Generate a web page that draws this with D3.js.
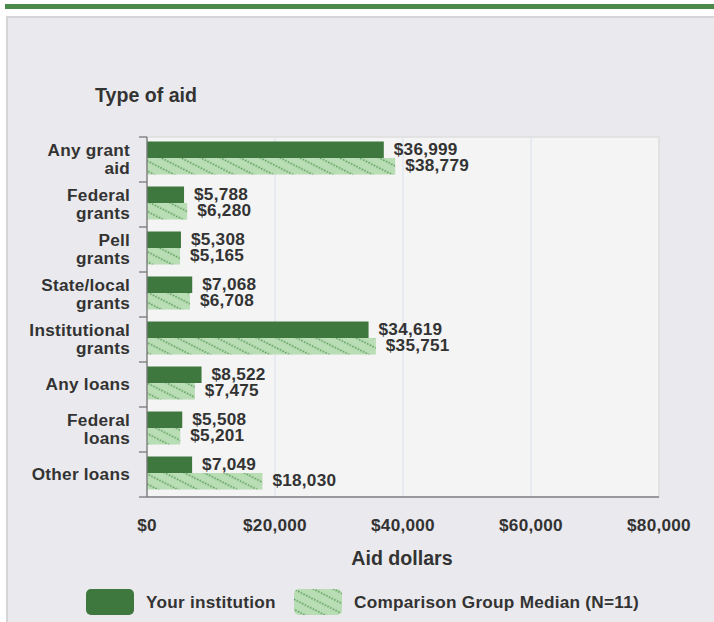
<!DOCTYPE html>
<html><head><meta charset="utf-8">
<script src="https://cdn.jsdelivr.net/npm/d3@7"></script>
<style>html,body{margin:0;padding:0;background:#fff;}svg{display:block;}</style>
</head><body>
<svg id="c" width="714" height="622"></svg>
<script>
const categories = ["Any grant aid","Federal grants","Pell grants","State/local grants","Institutional grants","Any loans","Federal loans","Other loans"];
const categoryLines = [["Any grant","aid"],["Federal","grants"],["Pell","grants"],["State/local","grants"],["Institutional","grants"],["Any loans"],["Federal","loans"],["Other loans"]];
const institution = [36999,5788,5308,7068,34619,8522,5508,7049];
const median = [38779,6280,5165,6708,35751,7475,5201,18030];
const xTicks = [0,20000,40000,60000,80000];
const seriesNames = ["Your institution","Comparison Group Median (N=11)"];

(function(){
const svg = d3.select("#c");
const font = "'Liberation Sans', Arial, Helvetica, sans-serif";
const textCol = "#333";
const dark = "#3f783f";
const fs = 17.2, ls = 0.25, tfs = 19.6;

// pattern
const defs = svg.append("defs");
const pat = defs.append("pattern").attr("id","hatch").attr("patternUnits","userSpaceOnUse")
  .attr("width",9).attr("height",9).attr("patternTransform","rotate(27)");
pat.append("rect").attr("width",9).attr("height",9).attr("fill","#b9ddb5");
pat.append("line").attr("x1",0).attr("x2",9).attr("y1",4.5).attr("y2",4.5)
  .attr("stroke","#4f944d").attr("stroke-width",1.5).attr("stroke-dasharray","1.5,1.5");

// page frame
svg.append("rect").attr("x",5).attr("y",4).attr("width",709).attr("height",5).attr("fill","#4a8b4b");
svg.append("rect").attr("x",6).attr("y",16).attr("width",708).attr("height",606).attr("fill","#eaeaee");
svg.append("rect").attr("x",6).attr("y",16).attr("width",708).attr("height",2).attr("fill","#d5d5d7");
svg.append("rect").attr("x",6).attr("y",16).attr("width",2).attr("height",606).attr("fill","#d5d5d7");

const pLeft = 147, pRight = 659, pTop = 137, pBottom = 497;
const x = d3.scaleLinear().domain([0,80000]).range([pLeft,pRight]);
const y = d3.scaleBand().domain(categories).range([pTop,pBottom]);

// plot area
svg.append("rect").attr("x",pLeft).attr("y",pTop).attr("width",pRight-pLeft).attr("height",pBottom-pTop)
  .attr("fill","#f4f4f4").attr("stroke","#dedee0").attr("stroke-width",1.5);

// gridlines
svg.append("g").selectAll("line").data(xTicks.slice(1,-1)).join("line")
  .attr("x1",d=>x(d)).attr("x2",d=>x(d)).attr("y1",pTop).attr("y2",pBottom)
  .attr("stroke","#dde3ee").attr("stroke-width",1.2);

// bars
const off = 4.5, bh = 16.5;
const gBars = svg.append("g");
categories.forEach((c,i)=>{
  const by = y(c);
  gBars.append("rect").attr("x",x(0)).attr("y",by+off).attr("width",x(institution[i])-x(0)).attr("height",bh).attr("fill",dark);
  gBars.append("rect").attr("x",x(0)).attr("y",by+off+bh).attr("width",x(median[i])-x(0)).attr("height",bh).attr("fill","url(#hatch)");
  gBars.append("text").attr("x",x(institution[i])+10).attr("y",by+off+bh/2+5.5)
    .text("$"+d3.format(",")(institution[i]));
  gBars.append("text").attr("x",x(median[i])+10).attr("y",by+off+bh*1.5+5)
    .text("$"+d3.format(",")(median[i]));
});
gBars.selectAll("text").attr("font-family",font).attr("font-weight","bold").attr("font-size",fs).attr("letter-spacing",ls).attr("fill",textCol);

// bottom axis line
svg.append("line").attr("x1",pLeft).attr("x2",pRight).attr("y1",pBottom).attr("y2",pBottom).attr("stroke","#9a9a9c").attr("stroke-width",2);

// left axis
const yTickPos = categories.map(c=>y(c)).concat([pBottom]);
svg.append("line").attr("x1",pLeft).attr("x2",pLeft).attr("y1",pTop).attr("y2",pBottom).attr("stroke","#777").attr("stroke-width",1.3);
svg.append("g").selectAll("line").data(yTickPos).join("line")
  .attr("x1",pLeft-8).attr("x2",pLeft).attr("y1",d=>d).attr("y2",d=>d).attr("stroke","#777").attr("stroke-width",1.3);

// category labels
categories.forEach((c,i)=>{
  const lines = categoryLines[i];
  const cy = y(c)+y.bandwidth()/2;
  const lh = 17.5;
  lines.forEach((t,j)=>{
    svg.append("text").attr("x",130).attr("y",cy + (j-(lines.length-1)/2)*lh + 5.5)
      .attr("text-anchor","end").attr("font-family",font).attr("font-weight","bold").attr("font-size",fs).attr("letter-spacing",ls).attr("fill",textCol).text(t);
  });
});

// x tick labels
svg.append("g").selectAll("text").data(xTicks).join("text")
  .attr("x",d=>x(d)).attr("y",531).attr("text-anchor","middle")
  .attr("font-family",font).attr("font-weight","bold").attr("font-size",fs).attr("letter-spacing",ls).attr("fill",textCol)
  .text(d=>"$"+d3.format(",")(d));

// titles
svg.append("text").attr("x",95).attr("y",102).attr("font-family",font).attr("font-weight","bold").attr("font-size",tfs).attr("fill",textCol).text("Type of aid");
svg.append("text").attr("x",402).attr("y",565).attr("text-anchor","middle").attr("font-family",font).attr("font-weight","bold").attr("font-size",tfs).attr("fill",textCol).text("Aid dollars");

// legend
const lg = svg.append("g");
lg.append("rect").attr("x",86).attr("y",589).attr("width",48).attr("height",26).attr("rx",5).attr("fill",dark);
lg.append("text").attr("x",146).attr("y",608).text(seriesNames[0]);
lg.append("rect").attr("x",294).attr("y",589).attr("width",48).attr("height",26).attr("rx",5).attr("fill","url(#hatch)");
lg.append("text").attr("x",354).attr("y",608).text(seriesNames[1]);
lg.selectAll("text").attr("font-family",font).attr("font-weight","bold").attr("font-size",fs).attr("letter-spacing",ls).attr("fill",textCol);
})();
</script>
</body></html>
